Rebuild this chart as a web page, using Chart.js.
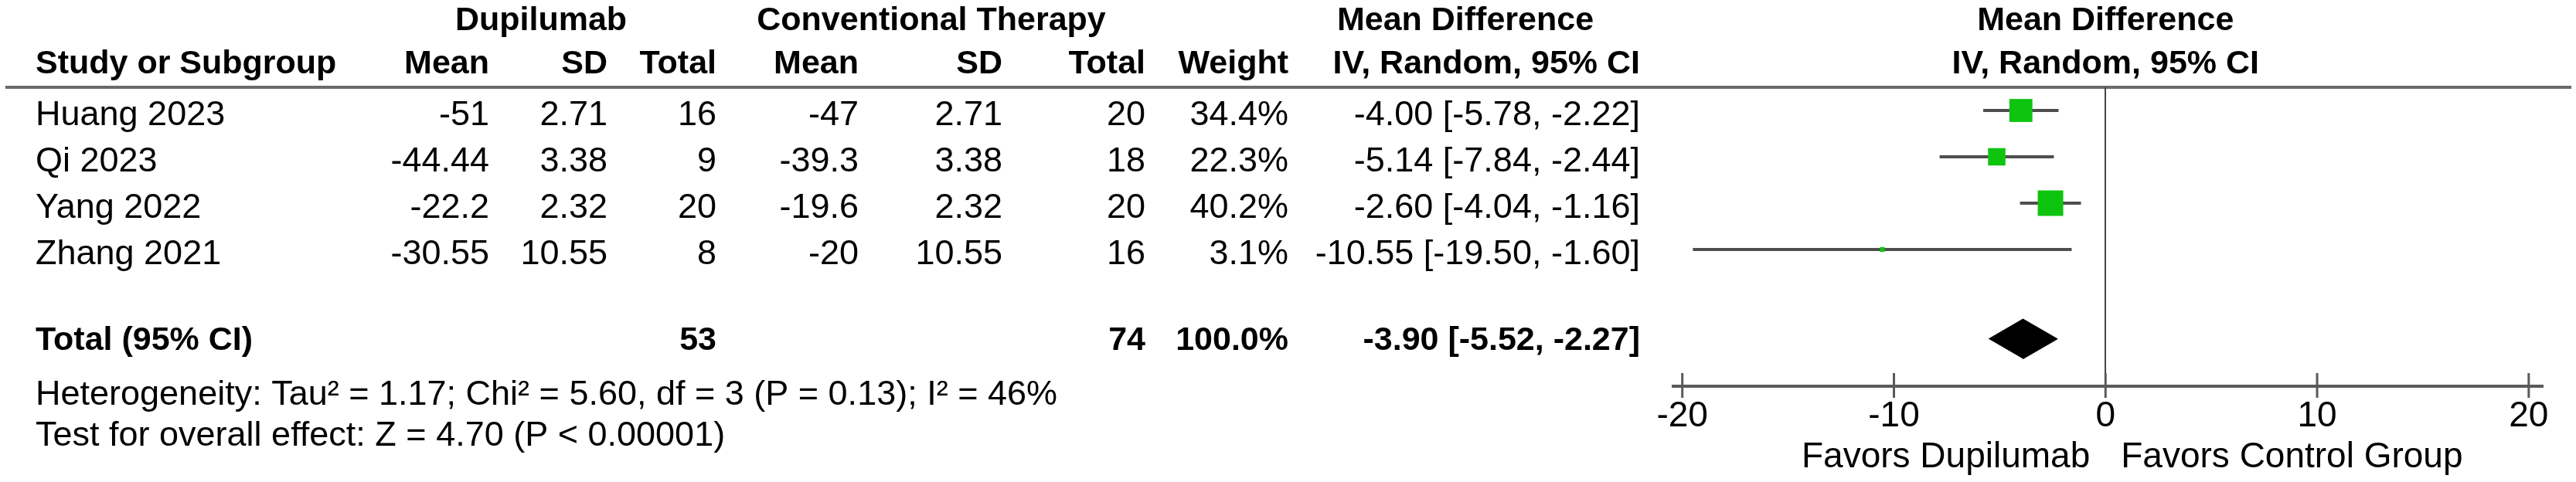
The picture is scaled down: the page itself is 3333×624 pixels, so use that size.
<!DOCTYPE html>
<html>
<head>
<meta charset="utf-8">
<title>Forest plot - Dupilumab vs Conventional Therapy</title>
<script src="https://cdn.jsdelivr.net/npm/chart.js@4.4.1/dist/chart.umd.min.js"></script>
<style>
    html, body { margin: 0; padding: 0; background: #fff; }
    canvas { display: block; }
</style>
</head>
<body>
<canvas id="forest" width="3333" height="624"></canvas>
<script>
(function() {
    'use strict';

    // Study data
    const studies = ['Huang 2023', 'Qi 2023', 'Yang 2022', 'Zhang 2021'];
    const dupMean = [-51, -44.44, -22.2, -30.55];
    const dupSD = [2.71, 3.38, 2.32, 10.55];
    const dupN = [16, 9, 20, 8];
    const convMean = [-47, -39.3, -19.6, -20];
    const convSD = [2.71, 3.38, 2.32, 10.55];
    const convN = [20, 18, 20, 16];
    const weights = [34.4, 22.3, 40.2, 3.1];
    const meanDiff = [-4.00, -5.14, -2.60, -10.55];
    const ciLow = [-5.78, -7.84, -4.04, -19.50];
    const ciHigh = [-2.22, -2.44, -1.16, -1.60];

    // Pooled result
    const totalDupN = 53;
    const totalConvN = 74;
    const totalWeight = 100.0;
    const totalMD = -3.90;
    const totalLow = -5.52;
    const totalHigh = -2.27;

    const tickValues = [-20, -10, 0, 10, 20];

    const heterogeneityText = 'Heterogeneity: Tau\u00b2 = 1.17; Chi\u00b2 = 5.60, df = 3 (P = 0.13); I\u00b2 = 46%';
    const overallText = 'Test for overall effect: Z = 4.70 (P < 0.00001)';

    // Layout (row positions on the y scale)
    const rows = [1, 2, 3, 4];
    const totalRow = 5.93;
    const FONT = '"Liberation Sans", Arial, sans-serif';

    const fmtCI = (m, lo, hi) => `${m.toFixed(2)} [${lo.toFixed(2)}, ${hi.toFixed(2)}]`;

    // CI lines: one small line per study
    const ciSets = studies.map((s, i) => ({
        label: s + ' CI',
        data: [{ x: ciLow[i], y: rows[i] }, { x: ciHigh[i], y: rows[i] }],
        showLine: true,
        borderColor: '#4e4e4e',
        borderWidth: 4,
        pointRadius: 0,
        order: 3
    }));

    // square side grows with the study weight
    const squareSet = {
        label: 'Mean difference',
        data: meanDiff.map((m, i) => ({ x: m, y: rows[i] })),
        pointStyle: 'rect',
        pointRadius: (c) => {
            const w = weights[c.dataIndex] || 0;
            return 33 * Math.pow(w / 40.2, 0.65) / 2 / Math.SQRT1_2;
        },
        backgroundColor: '#0fc40f',
        borderColor: '#0fc40f',
        borderWidth: 0,
        order: 1
    };

    const dh = 0.43;
    const diamondSet = {
        label: 'Total',
        data: [
            { x: totalLow, y: totalRow },
            { x: totalMD, y: totalRow - dh },
            { x: totalHigh, y: totalRow },
            { x: totalMD, y: totalRow + dh }
        ],
        showLine: true,
        fill: 'shape',
        backgroundColor: '#000',
        borderColor: '#000',
        borderWidth: 1,
        pointRadius: 0,
        tension: 0,
        order: 2
    };

    function text(ctx, str, x, y, align, bold) {
        ctx.font = (bold ? 'bold 43px ' : '45px ') + FONT;
        ctx.textAlign = align;
        ctx.fillText(str, x, y);
    }

    const tablePlugin = {
        id: 'forestTable',
        beforeDraw(chart) {
            const ctx = chart.ctx;
            const top = chart.chartArea.top;
            ctx.save();
            ctx.strokeStyle = '#6a6a6a';
            ctx.lineWidth = 4;
            ctx.beginPath();
            ctx.moveTo(7, top);
            ctx.lineTo(3327, top);
            ctx.stroke();
            ctx.restore();
        },
        afterDraw(chart) {
            const ctx = chart.ctx;
            const xs = chart.scales.x;
            const ys = chart.scales.y;
            const area = chart.chartArea;
            const py = (v) => ys.getPixelForValue(v);

            ctx.save();
            // axis line + tick marks crossing it
            ctx.strokeStyle = '#5a5a5a';
            ctx.lineWidth = 4;
            ctx.beginPath();
            ctx.moveTo(area.left, area.bottom);
            ctx.lineTo(area.right, area.bottom);
            ctx.stroke();
            ctx.lineWidth = 3;
            tickValues.forEach(v => {
                const px = xs.getPixelForValue(v);
                ctx.beginPath();
                ctx.moveTo(px, area.bottom - 17);
                ctx.lineTo(px, area.bottom + 15);
                ctx.stroke();
            });

            ctx.fillStyle = '#000';
            ctx.textBaseline = 'middle';

            // headers
            const h1 = py(-0.93), h2 = py(0);
            text(ctx, 'Dupilumab', 700, h1, 'center', true);
            text(ctx, 'Conventional Therapy', 1205, h1, 'center', true);
            text(ctx, 'Mean Difference', 1896, h1, 'center', true);
            text(ctx, 'Mean Difference', xs.getPixelForValue(0), h1, 'center', true);
            text(ctx, 'Study or Subgroup', 46, h2, 'left', true);
            text(ctx, 'Mean', 633, h2, 'right', true);
            text(ctx, 'SD', 786, h2, 'right', true);
            text(ctx, 'Total', 927, h2, 'right', true);
            text(ctx, 'Mean', 1111, h2, 'right', true);
            text(ctx, 'SD', 1297, h2, 'right', true);
            text(ctx, 'Total', 1482, h2, 'right', true);
            text(ctx, 'Weight', 1667, h2, 'right', true);
            text(ctx, 'IV, Random, 95% CI', 2122, h2, 'right', true);
            text(ctx, 'IV, Random, 95% CI', xs.getPixelForValue(0), h2, 'center', true);

            // study rows
            studies.forEach((s, i) => {
                const y = py(rows[i]) + 7;
                text(ctx, s, 46, y, 'left');
                text(ctx, String(dupMean[i]), 633, y, 'right');
                text(ctx, String(dupSD[i]), 786, y, 'right');
                text(ctx, String(dupN[i]), 927, y, 'right');
                text(ctx, String(convMean[i]), 1111, y, 'right');
                text(ctx, String(convSD[i]), 1297, y, 'right');
                text(ctx, String(convN[i]), 1482, y, 'right');
                text(ctx, weights[i].toFixed(1) + '%', 1667, y, 'right');
                text(ctx, fmtCI(meanDiff[i], ciLow[i], ciHigh[i]), 2122, y, 'right');
            });

            // total row
            const ty = py(totalRow) + 2;
            text(ctx, 'Total (95% CI)', 46, ty, 'left', true);
            text(ctx, String(totalDupN), 927, ty, 'right', true);
            text(ctx, String(totalConvN), 1482, ty, 'right', true);
            text(ctx, totalWeight.toFixed(1) + '%', 1667, ty, 'right', true);
            text(ctx, fmtCI(totalMD, totalLow, totalHigh), 2122, ty, 'right', true);

            text(ctx, heterogeneityText, 46, py(7.15), 'left');
            text(ctx, overallText, 46, py(8.03), 'left');

            // favours labels
            const zx = xs.getPixelForValue(0);
            ctx.font = '46px ' + FONT;
            ctx.textAlign = 'right';
            ctx.fillText('Favors Dupilumab', zx - 20, 592);
            ctx.textAlign = 'left';
            ctx.fillText('Favors Control Group', zx + 20, 592);
            ctx.restore();
        }
    };

    new Chart(document.getElementById('forest'), {
        type: 'scatter',
        data: { datasets: [...ciSets, squareSet, diamondSet] },
        options: {
            responsive: false,
            animation: false,
            devicePixelRatio: 1,
            layout: { padding: { left: 2163, right: 42, top: 113, bottom: 0 } },
            plugins: { legend: { display: false }, tooltip: { enabled: false } },
            scales: {
                x: {
                    type: 'linear',
                    min: -20.5,
                    max: 20.7,
                    afterBuildTicks: (scale) => { scale.ticks = tickValues.map(v => ({ value: v })); },
                    afterFit: (scale) => { scale.height = 124; },
                    border: { display: false },
                    grid: {
                        drawTicks: false,
                        lineWidth: 2,
                        color: (c) => (c.tick && c.tick.value === 0 ? '#444' : 'rgba(0,0,0,0)')
                    },
                    ticks: {
                        autoSkip: false,
                        maxRotation: 0,
                        padding: 12,
                        color: '#000',
                        font: { family: FONT, size: 46 }
                    }
                },
                y: {
                    type: 'linear',
                    display: false,
                    reverse: true,
                    min: 0.5,
                    max: 6.95
                }
            }
        },
        plugins: [tablePlugin]
    });
})();
</script>
</body>
</html>
